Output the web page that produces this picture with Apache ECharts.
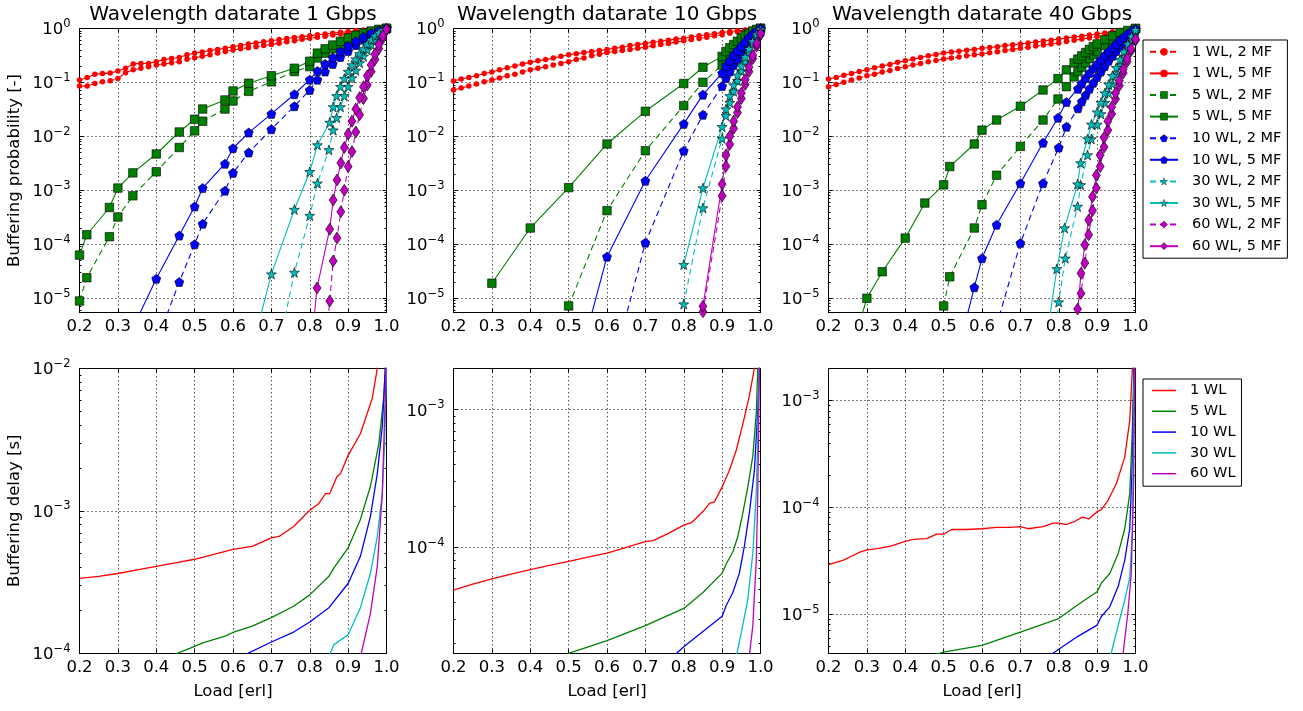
<!DOCTYPE html>
<html><head><meta charset="utf-8">
<script src="https://cdn.jsdelivr.net/npm/echarts@6.0.0/dist/echarts.min.js"></script>
<style>html,body{margin:0;padding:0;background:#fff}#c{width:1303px;height:711px}</style>
</head><body><div id="c"></div>
<script>
// ---------- DATA ----------
const titles = ['Wavelength datarate 1 Gbps','Wavelength datarate 10 Gbps','Wavelength datarate 40 Gbps'];
const xTicks = [0.2,0.3,0.4,0.5,0.6,0.7,0.8,0.9,1.0];
const topNames = ['1 WL, 2 MF','1 WL, 5 MF','5 WL, 2 MF','5 WL, 5 MF','10 WL, 2 MF','10 WL, 5 MF','30 WL, 2 MF','30 WL, 5 MF','60 WL, 2 MF','60 WL, 5 MF'];
const botNames = ['1 WL','5 WL','10 WL','30 WL','60 WL'];
const loadRed = [0.20,0.22,0.24,0.26,0.28,0.30,0.32,0.34,0.36,0.38,0.40,0.42,0.44,0.46,0.48,0.50,0.52,0.54,0.56,0.58,0.60,0.62,0.64,0.66,0.68,0.70,0.72,0.74,0.76,0.78,0.80,0.82,0.84,0.86,0.88,0.90,0.92,0.94,0.96,0.98,1.00];

// 1 Gbps, buffering probability
const a_wl1_mf2 = [0.085,0.085,0.095,0.102,0.107,0.117,0.151,0.170,0.182,0.195,0.209,0.219,0.229,0.240,0.266,0.285,0.302,0.324,0.347,0.372,0.398,0.417,0.437,0.457,0.479,0.501,0.531,0.562,0.589,0.624,0.653,0.684,0.716,0.750,0.785,0.813,0.851,0.891,0.933,0.966,1.0];
const a_wl1_mf5 = [0.110,0.123,0.141,0.145,0.148,0.162,0.182,0.219,0.224,0.224,0.240,0.263,0.275,0.288,0.324,0.347,0.363,0.389,0.407,0.427,0.457,0.479,0.513,0.537,0.562,0.589,0.617,0.646,0.676,0.700,0.724,0.759,0.785,0.813,0.841,0.871,0.902,0.933,0.955,0.977,1.0];
const a_wl5_mf2 = [[0.2,8.9e-6],[0.219,2.4e-5],[0.278,1.38e-4],[0.3,3.2e-4],[0.339,7.9e-4],[0.4,2.2e-3],[0.46,6.2e-3],[0.5,1.26e-2],[0.521,1.9e-2],[0.579,3.2e-2],[0.6,4.5e-2],[0.641,6.8e-2],[0.7,0.102],[0.76,0.158],[0.8,0.195],[0.82,0.282],[0.84,0.347],[0.86,0.417],[0.88,0.501],[0.9,0.589],[0.92,0.676],[0.94,0.776],[0.96,0.851],[0.98,0.933],[1.0,1.0]];
const a_wl5_mf5 = [[0.2,6.3e-5],[0.219,1.5e-4],[0.278,4.8e-4],[0.3,1.1e-3],[0.339,2.1e-3],[0.4,4.7e-3],[0.46,1.2e-2],[0.5,2.07e-2],[0.521,3.2e-2],[0.579,4.7e-2],[0.6,6.9e-2],[0.641,9.6e-2],[0.7,0.132],[0.76,0.182],[0.8,0.245],[0.82,0.347],[0.84,0.417],[0.86,0.490],[0.88,0.575],[0.9,0.661],[0.92,0.741],[0.94,0.813],[0.96,0.891],[0.98,0.955],[1.0,1.0]];
const a_wl10_mf2 = [[0.4,1.5e-6],[0.46,2.0e-5],[0.5,1.0e-4],[0.521,2.4e-4],[0.579,9.8e-4],[0.6,2.1e-3],[0.641,5.0e-3],[0.7,1.35e-2],[0.76,3.6e-2],[0.8,7.2e-2],[0.82,0.112],[0.84,0.158],[0.86,0.219],[0.88,0.295],[0.9,0.380],[0.92,0.490],[0.94,0.617],[0.96,0.741],[0.98,0.871],[1.0,1.0]];
const a_wl10_mf5 = [[0.339,2.8e-6],[0.4,2.3e-5],[0.46,1.45e-4],[0.5,5.0e-4],[0.521,1.1e-3],[0.579,3.1e-3],[0.6,6.0e-3],[0.641,1.17e-2],[0.7,2.6e-2],[0.76,6.0e-2],[0.8,0.112],[0.82,0.162],[0.84,0.219],[0.86,0.288],[0.88,0.372],[0.9,0.468],[0.92,0.575],[0.94,0.692],[0.96,0.813],[0.98,0.912],[1.0,1.0]];
const a_wl30_mf2 = [[0.72,1.3e-6],[0.76,3.0e-5],[0.8,3.4e-4],[0.82,1.35e-3],[0.85,5.6e-3],[0.861,1.3e-2],[0.87,2.2e-2],[0.88,3.5e-2],[0.89,5.6e-2],[0.9,8.3e-2],[0.91,0.120],[0.92,0.166],[0.93,0.229],[0.94,0.302],[0.95,0.398],[0.96,0.501],[0.97,0.631],[0.98,0.776],[0.99,0.891],[1.0,1.0]];
const a_wl30_mf5 = [[0.66,2.2e-6],[0.7,2.8e-5],[0.76,4.4e-4],[0.8,2.2e-3],[0.82,6.9e-3],[0.852,1.8e-2],[0.861,3.5e-2],[0.87,5.6e-2],[0.88,8.3e-2],[0.89,0.117],[0.9,0.158],[0.91,0.209],[0.92,0.269],[0.93,0.339],[0.94,0.417],[0.95,0.513],[0.96,0.617],[0.97,0.724],[0.98,0.832],[0.99,0.933],[1.0,1.0]];
const a_wl60_mf2 = [[0.845,2.5e-6],[0.852,8.9e-6],[0.861,4.9e-5],[0.871,1.3e-4],[0.881,4.0e-4],[0.89,1.0e-3],[0.9,2.75e-3],[0.91,5.2e-3],[0.92,1.2e-2],[0.93,2.5e-2],[0.94,5.0e-2],[0.95,8.9e-2],[0.96,0.158],[0.97,0.263],[0.98,0.417],[0.99,0.646],[1.0,0.933]];
const a_wl60_mf5 = [[0.8,6.8e-7],[0.819,1.55e-5],[0.852,1.9e-4],[0.861,6.6e-4],[0.871,1.55e-3],[0.881,3.2e-3],[0.89,6.2e-3],[0.9,1.1e-2],[0.91,1.9e-2],[0.92,3.2e-2],[0.93,5.2e-2],[0.94,8.3e-2],[0.95,0.132],[0.96,0.209],[0.97,0.331],[0.98,0.501],[0.99,0.724],[1.0,0.955]];

// 10 Gbps, buffering probability
const b_wl1_mf2 = [0.072,0.078,0.085,0.093,0.102,0.110,0.120,0.132,0.141,0.155,0.170,0.182,0.195,0.209,0.224,0.240,0.263,0.282,0.309,0.331,0.355,0.372,0.389,0.407,0.427,0.447,0.473,0.501,0.525,0.556,0.589,0.617,0.646,0.684,0.724,0.759,0.813,0.861,0.912,0.955,1.0];
const b_wl1_mf5 = [0.106,0.115,0.123,0.132,0.145,0.155,0.170,0.186,0.200,0.219,0.234,0.251,0.263,0.282,0.302,0.324,0.339,0.355,0.372,0.389,0.407,0.427,0.447,0.479,0.501,0.525,0.550,0.575,0.603,0.631,0.653,0.692,0.724,0.759,0.794,0.832,0.871,0.902,0.933,0.966,1.0];
const b_wl5_mf2 = [[0.5,7.2e-6],[0.6,4.2e-4],[0.7,5.4e-3],[0.8,3.7e-2],[0.85,0.1],[0.9,0.209],[0.91,0.269],[0.92,0.331],[0.93,0.398],[0.94,0.479],[0.95,0.562],[0.96,0.661],[0.97,0.759],[0.98,0.851],[0.99,0.933],[1.0,1.0]];
const b_wl5_mf5 = [[0.3,1.9e-5],[0.4,2.0e-4],[0.5,1.12e-3],[0.6,7.2e-3],[0.7,2.9e-2],[0.8,9.5e-2],[0.85,0.19],[0.9,0.302],[0.91,0.372],[0.92,0.437],[0.93,0.501],[0.94,0.575],[0.95,0.661],[0.96,0.741],[0.97,0.813],[0.98,0.891],[0.99,0.955],[1.0,1.0]];
const b_wl10_mf2 = [[0.6,2.1e-7],[0.7,1.07e-4],[0.8,5.4e-3],[0.85,2.5e-2],[0.9,8.5e-2],[0.91,0.120],[0.92,0.158],[0.93,0.209],[0.94,0.269],[0.95,0.347],[0.96,0.437],[0.97,0.550],[0.98,0.692],[0.99,0.832],[1.0,1.0]];
const b_wl10_mf5 = [[0.5,1.3e-7],[0.6,5.9e-5],[0.7,1.5e-3],[0.8,1.7e-2],[0.85,5.9e-2],[0.9,0.148],[0.91,0.20],[0.92,0.251],[0.93,0.316],[0.94,0.389],[0.95,0.468],[0.96,0.562],[0.97,0.676],[0.98,0.794],[0.99,0.891],[1.0,1.0]];
const b_wl30_mf2 = [[0.8,7.8e-6],[0.85,4.7e-4],[0.9,9.1e-3],[0.91,2.4e-2],[0.92,4.2e-2],[0.93,6.8e-2],[0.94,0.107],[0.95,0.162],[0.96,0.245],[0.97,0.363],[0.98,0.525],[0.99,0.724],[1.0,0.933]];
const b_wl30_mf5 = [[0.8,4.2e-5],[0.85,1.1e-3],[0.9,1.5e-2],[0.91,3.2e-2],[0.92,5.6e-2],[0.93,8.9e-2],[0.94,0.135],[0.95,0.20],[0.96,0.295],[0.97,0.417],[0.98,0.575],[0.99,0.776],[1.0,0.955]];
const b_wl60_mf2 = [[0.85,5.6e-6],[0.9,7.9e-4],[0.91,2.8e-3],[0.92,7.1e-3],[0.93,1.4e-2],[0.94,2.75e-2],[0.95,5.0e-2],[0.96,9.1e-2],[0.97,0.158],[0.98,0.275],[0.99,0.468],[1.0,0.759]];
const b_wl60_mf5 = [[0.85,7.1e-6],[0.9,1.3e-3],[0.91,4.5e-3],[0.92,1.0e-2],[0.93,1.9e-2],[0.94,3.5e-2],[0.95,6.3e-2],[0.96,0.112],[0.97,0.191],[0.98,0.316],[0.99,0.525],[1.0,0.794]];

// 40 Gbps, buffering probability
const c_wl1_mf2 = [0.083,0.091,0.100,0.110,0.120,0.132,0.141,0.155,0.166,0.180,0.195,0.209,0.224,0.240,0.254,0.269,0.282,0.295,0.309,0.324,0.335,0.351,0.367,0.389,0.407,0.427,0.447,0.468,0.490,0.513,0.537,0.569,0.603,0.631,0.661,0.700,0.750,0.804,0.861,0.933,1.0];
const c_wl1_mf5 = [0.115,0.123,0.135,0.145,0.158,0.170,0.186,0.200,0.214,0.234,0.251,0.269,0.288,0.309,0.327,0.347,0.363,0.376,0.394,0.407,0.427,0.442,0.457,0.479,0.495,0.513,0.537,0.556,0.582,0.603,0.631,0.661,0.692,0.716,0.750,0.785,0.822,0.861,0.912,0.955,1.0];
const c_wl5_mf2 = [[0.5,7.2e-6],[0.516,2.5e-5],[0.58,2.0e-4],[0.6,5.4e-4],[0.638,1.9e-3],[0.7,6.5e-3],[0.759,2.0e-2],[0.798,4.9e-2],[0.82,8.3e-2],[0.84,0.126],[0.85,0.158],[0.86,0.191],[0.87,0.229],[0.88,0.275],[0.89,0.324],[0.9,0.372],[0.92,0.479],[0.94,0.603],[0.96,0.724],[0.98,0.851],[1.0,0.977]];
const c_wl5_mf5 = [[0.26,1.1e-6],[0.3,1.0e-5],[0.34,3.1e-5],[0.4,1.3e-4],[0.451,5.8e-4],[0.5,1.26e-3],[0.516,2.75e-3],[0.58,7.2e-3],[0.6,1.3e-2],[0.638,2.0e-2],[0.7,3.6e-2],[0.759,7.2e-2],[0.798,0.117],[0.82,0.17],[0.84,0.229],[0.85,0.269],[0.86,0.309],[0.87,0.355],[0.88,0.407],[0.89,0.457],[0.9,0.513],[0.92,0.617],[0.94,0.724],[0.96,0.832],[0.98,0.912],[1.0,1.0]];
const c_wl10_mf2 = [[0.638,3.1e-6],[0.7,1.05e-4],[0.759,1.35e-3],[0.8,6.2e-3],[0.82,1.5e-2],[0.85,3.3e-2],[0.86,4.4e-2],[0.87,5.8e-2],[0.88,7.6e-2],[0.89,9.8e-2],[0.9,0.126],[0.91,0.158],[0.92,0.20],[0.93,0.251],[0.94,0.309],[0.95,0.380],[0.96,0.468],[0.97,0.562],[0.98,0.676],[0.99,0.813],[1.0,0.933]];
const c_wl10_mf5 = [[0.516,2.5e-7],[0.58,1.6e-5],[0.6,5.5e-5],[0.638,2.3e-4],[0.7,1.35e-3],[0.759,7.6e-3],[0.798,2.2e-2],[0.82,4.3e-2],[0.85,7.6e-2],[0.86,9.5e-2],[0.87,0.120],[0.88,0.148],[0.89,0.182],[0.9,0.219],[0.91,0.263],[0.92,0.316],[0.93,0.372],[0.94,0.437],[0.95,0.513],[0.96,0.603],[0.97,0.692],[0.98,0.794],[0.99,0.891],[1.0,0.977]];
const c_wl30_mf2 = [[0.79,2.0e-6],[0.8,8.5e-6],[0.817,5.5e-5],[0.849,5.0e-4],[0.857,1.26e-3],[0.875,4.5e-3],[0.885,8.9e-3],[0.9,1.66e-2],[0.91,2.6e-2],[0.92,4.2e-2],[0.93,6.3e-2],[0.94,9.3e-2],[0.95,0.138],[0.96,0.20],[0.97,0.288],[0.98,0.417],[0.99,0.603],[1.0,0.851]];
const c_wl30_mf5 = [[0.76,7.1e-7],[0.795,3.5e-5],[0.815,2.0e-4],[0.849,1.3e-3],[0.857,3.2e-3],[0.875,8.9e-3],[0.885,1.66e-2],[0.9,2.8e-2],[0.91,4.2e-2],[0.92,6.3e-2],[0.93,9.1e-2],[0.94,0.132],[0.95,0.186],[0.96,0.263],[0.97,0.372],[0.98,0.513],[0.99,0.708],[1.0,0.933]];
const c_wl60_mf2 = [[0.849,6.3e-6],[0.858,1.23e-5],[0.868,4.5e-5],[0.878,1.5e-4],[0.888,4.2e-4],[0.898,1.1e-3],[0.908,2.75e-3],[0.918,6.3e-3],[0.928,1.3e-2],[0.938,2.6e-2],[0.948,4.9e-2],[0.958,8.7e-2],[0.968,0.148],[0.978,0.24],[0.988,0.38],[1.0,0.603]];
const c_wl60_mf5 = [[0.845,2.5e-6],[0.858,2.9e-5],[0.868,9.8e-5],[0.878,2.8e-4],[0.888,7.6e-4],[0.898,1.9e-3],[0.908,4.5e-3],[0.918,9.5e-3],[0.928,1.9e-2],[0.938,3.5e-2],[0.948,6.3e-2],[0.958,0.107],[0.968,0.174],[0.978,0.275],[0.988,0.417],[1.0,0.631]];

// 1 Gbps, buffering delay
const d_wl1 = [[0.2,3.36e-4],[0.25,3.47e-4],[0.3,3.63e-4],[0.35,3.85e-4],[0.4,4.07e-4],[0.45,4.31e-4],[0.5,4.57e-4],[0.55,4.95e-4],[0.6,5.37e-4],[0.65,5.62e-4],[0.7,6.46e-4],[0.72,6.61e-4],[0.758,7.76e-4],[0.8,1.01e-3],[0.823,1.12e-3],[0.841,1.32e-3],[0.852,1.32e-3],[0.871,1.74e-3],[0.88,1.82e-3],[0.9,2.45e-3],[0.932,3.47e-3],[0.963,6.17e-3],[0.976,1.0e-2],[0.99,3.2e-2]];
const d_wl5 = [[0.4,8.7e-5],[0.5,1.12e-4],[0.523,1.19e-4],[0.58,1.32e-4],[0.602,1.41e-4],[0.65,1.55e-4],[0.7,1.78e-4],[0.758,2.14e-4],[0.8,2.57e-4],[0.85,3.47e-4],[0.863,3.98e-4],[0.9,5.5e-4],[0.932,8.7e-4],[0.958,1.48e-3],[0.98,2.95e-3],[0.993,6.3e-3],[0.997,1.0e-2],[1.0,3e-2]];
const d_wl10 = [[0.6,8.9e-5],[0.7,1.2e-4],[0.758,1.41e-4],[0.8,1.66e-4],[0.85,2.09e-4],[0.9,3.09e-4],[0.932,4.79e-4],[0.958,9.1e-4],[0.976,1.82e-3],[0.989,3.9e-3],[0.997,1.0e-2],[1.0,2.5e-2]];
const d_wl30 = [[0.85,9.5e-5],[0.863,1.15e-4],[0.9,1.35e-4],[0.932,2.09e-4],[0.958,3.63e-4],[0.976,6.6e-4],[0.989,1.32e-3],[0.995,2.95e-3],[1.0,1.0e-2]];
const d_wl60 = [[0.93,8.9e-5],[0.958,1.9e-4],[0.976,4.07e-4],[0.989,1.32e-3],[0.997,6.6e-3],[1.0,1.6e-2]];

// 10 Gbps, buffering delay
const e_wl1 = [[0.2,4.9e-5],[0.25,5.4e-5],[0.3,5.9e-5],[0.35,6.4e-5],[0.4,6.9e-5],[0.45,7.4e-5],[0.5,7.9e-5],[0.55,8.5e-5],[0.6,9.1e-5],[0.65,1.0e-4],[0.7,1.1e-4],[0.72,1.12e-4],[0.759,1.26e-4],[0.8,1.45e-4],[0.82,1.51e-4],[0.85,1.82e-4],[0.867,2.09e-4],[0.88,2.14e-4],[0.9,2.75e-4],[0.919,3.63e-4],[0.937,5.1e-4],[0.954,7.9e-4],[0.971,1.26e-3],[0.984,2.0e-3],[0.995,5.0e-3]];
const e_wl5 = [[0.4,1.26e-5],[0.5,1.7e-5],[0.6,2.1e-5],[0.7,2.7e-5],[0.8,3.6e-5],[0.85,4.7e-5],[0.9,6.5e-5],[0.911,7.6e-5],[0.928,9.3e-5],[0.941,1.2e-4],[0.954,1.78e-4],[0.967,2.75e-4],[0.98,4.6e-4],[0.989,9.5e-4],[0.993,2.0e-3],[0.998,5e-3]];
const e_wl10 = [[0.75,1.41e-5],[0.8,1.9e-5],[0.85,2.45e-5],[0.9,3.16e-5],[0.911,3.8e-5],[0.928,4.7e-5],[0.945,6.5e-5],[0.958,1.02e-4],[0.971,1.78e-4],[0.984,3.6e-4],[0.993,1.0e-3],[0.997,2.0e-3],[1.0,5e-3]];
const e_wl30 = [[0.925,1.12e-5],[0.95,2.4e-5],[0.967,4.2e-5],[0.98,9.1e-5],[0.989,2.5e-4],[0.993,6.3e-4],[0.996,2.0e-3],[1.0,5e-3]];
const e_wl60 = [[0.962,1.0e-5],[0.98,2.7e-5],[0.989,8.1e-5],[0.993,2.5e-4],[0.997,2.0e-3],[1.0,5e-3]];

// 40 Gbps, buffering delay
const f_wl1 = [[0.2,2.9e-5],[0.239,3.2e-5],[0.261,3.5e-5],[0.282,3.8e-5],[0.3,4.0e-5],[0.326,4.1e-5],[0.36,4.3e-5],[0.4,4.8e-5],[0.421,5.0e-5],[0.456,5.1e-5],[0.482,5.6e-5],[0.5,5.6e-5],[0.521,6.2e-5],[0.56,6.2e-5],[0.6,6.3e-5],[0.638,6.5e-5],[0.673,6.5e-5],[0.7,6.6e-5],[0.72,6.3e-5],[0.759,6.6e-5],[0.785,7.1e-5],[0.8,7.1e-5],[0.82,6.9e-5],[0.842,7.4e-5],[0.862,8.1e-5],[0.879,7.8e-5],[0.9,9.1e-5],[0.911,9.5e-5],[0.929,1.17e-4],[0.95,1.66e-4],[0.972,2.95e-4],[0.985,6.5e-4],[0.992,2.0e-3],[0.998,1e-2]];
const f_wl5 = [[0.4,3.5e-6],[0.5,4.4e-6],[0.6,5.1e-6],[0.7,6.8e-6],[0.8,9.1e-6],[0.846,1.2e-5],[0.9,1.62e-5],[0.911,1.95e-5],[0.933,2.4e-5],[0.955,3.7e-5],[0.972,6.3e-5],[0.985,1.35e-4],[0.992,5.6e-4],[0.996,2.0e-3],[1.0,5e-3]];
const f_wl10 = [[0.75,3.5e-6],[0.8,4.7e-6],[0.85,6.2e-6],[0.9,7.9e-6],[0.911,9.5e-6],[0.933,1.17e-5],[0.955,1.82e-5],[0.972,3.2e-5],[0.985,6.3e-5],[0.992,2.75e-4],[0.996,2.0e-3],[1.0,5e-3]];
const f_wl30 = [[0.92,2.5e-6],[0.955,7.9e-6],[0.972,1.35e-5],[0.985,2.2e-5],[0.992,6.3e-5],[0.996,1.26e-3],[1.0,5e-3]];
const f_wl60 = [[0.96,2.5e-6],[0.98,1.02e-5],[0.989,2.4e-5],[0.995,1.6e-4],[0.998,2e-3],[1.0,5e-3]];

// y ranges of the six panels [min, max]
const yRanges = [[5.4e-6,1],[5.4e-6,1],[5.4e-6,1],[1e-4,1e-2],[1.7e-5,2e-3],[4.3e-6,2e-3]];

// ---------- STYLE / BUILD ----------
const FONT = 'DejaVu Sans';
const COL = {wl1:'#ff0000', wl5:'#008000', wl10:'#0000ff', wl30:'#00bfbf', wl60:'#bf00bf'};
const PENT = 'path://M0,-1 L0.951,-0.309 L0.588,0.809 L-0.588,0.809 L-0.951,-0.309 Z';
const STAR = 'path://M0,-1 L0.235,-0.324 L0.951,-0.309 L0.380,0.124 L0.588,0.809 L0,0.4 L-0.588,0.809 L-0.380,0.124 L-0.951,-0.309 L-0.235,-0.324 Z';
const SYM = {wl1:'circle', wl5:'rect', wl10:PENT, wl30:STAR, wl60:'diamond'};
const SZ = {wl1:5.5, wl5:8.5, wl10:9, wl30:10, wl60:[8,12]};
const WLN = {wl1:'1 WL', wl5:'5 WL', wl10:'10 WL', wl30:'30 WL', wl60:'60 WL'};

const gridsPos = [];
const colLeft = [79.5, 453.5, 828.5];
for (let r = 0; r < 2; r++) for (let c = 0; c < 3; c++)
  gridsPos.push({left: colLeft[c], top: r === 0 ? 28.3 : 368.3, width: 307, height: r === 0 ? 284.4 : 285, containLabel: false, outerBoundsMode: 'none'});

function minors(lo, hi) {
  const r = [];
  for (let e = Math.floor(Math.log10(lo)) - 1; e <= Math.ceil(Math.log10(hi)); e++)
    for (let k = 2; k <= 9; k++) { const v = k * Math.pow(10, e); if (v > lo * 1.0001 && v < hi * 0.9999) r.push(v); }
  return r;
}
function ylab(v) {
  const e = Math.log10(v); const r = Math.round(e);
  if (Math.abs(e - r) > 1e-6) return '';
  return '{a|10}{b|' + (r < 0 ? '\u2212' + (-r) : String(r)) + '}';
}
const black = {color: '#000', width: 1};
const xAxes = [], yAxes = [];
for (let gi = 0; gi < 6; gi++) {
  const isBottom = gi >= 3;
  xAxes.push({type: 'value', gridIndex: gi, position: 'bottom', min: 0.2, max: 1.0, interval: 0.1,
    axisLine: {show: true, onZero: false, lineStyle: black},
    axisTick: {show: true, inside: true, length: 4, lineStyle: black},
    axisLabel: {show: true, color: '#000', fontFamily: FONT, fontSize: 16.5, margin: 6, formatter: v => v.toFixed(1)},
    splitLine: {show: true, lineStyle: {color: '#000', width: 1, type: [1, 3]}},
    name: isBottom ? 'Load [erl]' : '', nameLocation: 'middle', nameGap: 30,
    nameTextStyle: {color: '#000', fontFamily: FONT, fontSize: 16.5}});
  xAxes.push({type: 'value', gridIndex: gi, position: 'top', min: 0.2, max: 1.0, interval: 0.1,
    axisLine: {show: true, onZero: false, lineStyle: black},
    axisTick: {show: true, inside: true, length: 4, lineStyle: black},
    axisLabel: {show: false}, splitLine: {show: false},
    name: isBottom ? '' : titles[gi], nameLocation: 'middle', nameGap: 4,
    nameTextStyle: {color: '#000', fontFamily: FONT, fontSize: 20}});
  const [lo, hi] = yRanges[gi];
  yAxes.push({type: 'log', logBase: 10, gridIndex: gi, position: 'left', min: lo, max: hi,
    axisLine: {show: true, onZero: false, lineStyle: black},
    axisTick: {show: true, inside: true, length: 4, lineStyle: black},
    axisLabel: {show: true, margin: 9, formatter: ylab,
      rich: {a: {fontSize: 16.5, fontFamily: FONT, color: '#000', padding: [3, 0, 0, 0]},
             b: {fontSize: 11.5, fontFamily: FONT, color: '#000', padding: [0, 0, 9, 0]}}},
    splitLine: {show: true, lineStyle: {color: '#000', width: 1, type: [1, 3]}},
    name: gi === 0 ? 'Buffering probability [-]' : (gi === 3 ? 'Buffering delay [s]' : ''),
    nameLocation: 'middle', nameGap: 56,
    nameTextStyle: {color: '#000', fontFamily: FONT, fontSize: 16.5}});
  yAxes.push({type: 'log', logBase: 10, gridIndex: gi, position: 'right', min: lo, max: hi,
    axisLine: {show: true, onZero: false, lineStyle: black},
    axisTick: {show: true, inside: true, length: 4, lineStyle: black},
    axisLabel: {show: false}, splitLine: {show: false}});
  for (const pos of ['left', 'right']) {
    yAxes.push({type: 'log', logBase: 10, gridIndex: gi, position: pos, min: lo, max: hi,
      axisLine: {show: false, onZero: false},
      axisTick: {show: true, inside: true, length: 2, lineStyle: black, customValues: minors(lo, hi)},
      axisLabel: {show: false}, splitLine: {show: false}});
  }
}

const series = [];
function topS(gi, key, mf, data) {
  const c = COL[key];
  series.push({type: 'line', name: WLN[key] + ', ' + mf + ' MF', xAxisIndex: 2 * gi, yAxisIndex: 4 * gi,
    data: data, symbol: SYM[key], symbolSize: SZ[key], showSymbol: true, clip: true,
    lineStyle: {color: c, width: 1.1, type: mf === 2 ? [6, 4] : 'solid'},
    itemStyle: {color: c, borderColor: key === 'wl1' ? c : '#000', borderWidth: key === 'wl1' ? 0 : 0.6},
    emphasis: {disabled: true}, animation: false});
}
function botS(gi, key, data) {
  series.push({type: 'line', name: WLN[key], xAxisIndex: 2 * gi, yAxisIndex: 4 * gi,
    data: data, symbol: 'none', showSymbol: false, clip: true,
    lineStyle: {color: COL[key], width: 1.3}, itemStyle: {color: COL[key]},
    emphasis: {disabled: true}, animation: false});
}
const red = arr => loadRed.map((x, i) => [x, arr[i]]);
const topSets = [
  [a_wl1_mf2, a_wl1_mf5, a_wl5_mf2, a_wl5_mf5, a_wl10_mf2, a_wl10_mf5, a_wl30_mf2, a_wl30_mf5, a_wl60_mf2, a_wl60_mf5],
  [b_wl1_mf2, b_wl1_mf5, b_wl5_mf2, b_wl5_mf5, b_wl10_mf2, b_wl10_mf5, b_wl30_mf2, b_wl30_mf5, b_wl60_mf2, b_wl60_mf5],
  [c_wl1_mf2, c_wl1_mf5, c_wl5_mf2, c_wl5_mf5, c_wl10_mf2, c_wl10_mf5, c_wl30_mf2, c_wl30_mf5, c_wl60_mf2, c_wl60_mf5]];
const keys = ['wl1', 'wl5', 'wl10', 'wl30', 'wl60'];
topSets.forEach((set, gi) => {
  keys.forEach((k, j) => {
    const d2 = set[2 * j], d5 = set[2 * j + 1];
    topS(gi, k, 2, k === 'wl1' ? red(d2) : d2);
    topS(gi, k, 5, k === 'wl1' ? red(d5) : d5);
  });
});
const botSets = [[d_wl1, d_wl5, d_wl10, d_wl30, d_wl60], [e_wl1, e_wl5, e_wl10, e_wl30, e_wl60], [f_wl1, f_wl5, f_wl10, f_wl30, f_wl60]];
botSets.forEach((set, i) => keys.forEach((k, j) => botS(3 + i, k, set[j])));

const legText = {color: '#000', fontFamily: FONT, fontSize: 14.5, lineHeight: 14, padding: [0, 0, 0, 9]};
const option = {
  backgroundColor: '#fff',
  animation: false,
  grid: gridsPos,
  xAxis: xAxes,
  yAxis: yAxes,
  legend: [
    {data: topNames, orient: 'vertical', left: 1143, top: 40, itemWidth: 28, itemHeight: 9, itemGap: 6.6,
     padding: [4.3, 6, 4.5, 6], borderColor: '#000', borderWidth: 1, borderRadius: 0, backgroundColor: '#fff',
     itemStyle: {borderWidth: 0.4},
     textStyle: legText, selectedMode: false},
    {data: botNames.map(n => ({name: n, icon: 'rect'})), orient: 'vertical', left: 1143, top: 379, itemWidth: 24, itemHeight: 1.5, itemGap: 5.8,
     padding: [4, 6, 5, 9], borderColor: '#000', borderWidth: 1, borderRadius: 0, backgroundColor: '#fff',
     textStyle: legText, selectedMode: false}
  ],
  series: series
};
const chart = echarts.init(document.getElementById('c'), null, {renderer: 'canvas'});
chart.setOption(option);
</script></body></html>
